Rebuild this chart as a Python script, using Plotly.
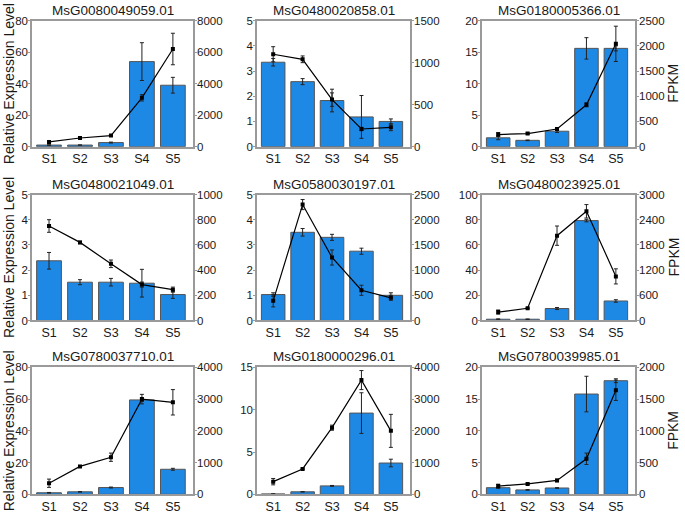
import plotly.graph_objects as go

stages = ["S1", "S2", "S3", "S4", "S5"]
genes = ["MsG0080049059.01", "MsG0480020858.01", "MsG0180005366.01",
         "MsG0480021049.01", "MsG0580030197.01", "MsG0480023925.01",
         "MsG0780037710.01", "MsG0180000296.01", "MsG0780039985.01"]

rel_expr = [[1.0, 1.0, 2.6, 54, 39],
            [3.35, 2.58, 1.83, 1.18, 1.0],
            [1.4, 1.0, 2.45, 15.6, 15.6],
            [2.37, 1.52, 1.52, 1.48, 1.03],
            [1.03, 3.5, 3.3, 2.75, 1.0],
            [1.0, 1.0, 9.5, 79.3, 15.5],
            [1.0, 1.6, 4.3, 59.5, 15.8],
            [0.05, 0.3, 1.0, 9.6, 3.7],
            [1.05, 0.7, 1.0, 15.8, 17.9]]
rel_err = [[0.2, 0.1, 0.3, 12, 5],
           [0.15, 0.12, 0.45, 0.85, 0.1],
           [0.3, 0.05, 0.2, 1.7, 0.4],
           [0.33, 0.1, 0.15, 0.55, 0.15],
           [0.07, 0.15, 0.12, 0.12, 0.1],
           [0.3, 0.2, 0.8, 1.0, 1.0],
           [0.2, 0.2, 0.3, 1.0, 0.6],
           [0.01, 0.02, 0.05, 2.4, 0.45],
           [0.1, 0.05, 0.05, 2.8, 0.3]]
fpkm = [[300, 550, 700, 3100, 6200],
        [1100, 1040, 560, 210, 230],
        [240, 260, 350, 830, 2040],
        [750, 620, 450, 285, 245],
        [390, 2300, 1250, 600, 450],
        [200, 290, 2020, 2600, 1050],
        [350, 880, 1170, 3000, 2900],
        [400, 800, 2100, 3600, 2000],
        [130, 165, 220, 560, 1640]]
fpkm_err = [[40, 30, 30, 200, 1000],
            [90, 40, 80, 20, 40],
            [40, 15, 30, 40, 350],
            [50, 10, 30, 20, 20],
            [120, 100, 150, 100, 50],
            [50, 10, 230, 160, 180],
            [130, 30, 130, 150, 400],
            [100, 20, 80, 300, 520],
            [30, 10, 20, 90, 160]]

left_max = [80, 5, 20, 5, 5, 100, 80, 15, 20]
left_dtick = [20, 1, 5, 1, 1, 20, 20, 5, 5]
right_max = [8000, 1500, 2500, 1000, 2500, 3000, 4000, 4000, 2000]
right_dtick = [2000, 500, 500, 200, 500, 600, 1000, 1000, 500]

W, H = 685, 515
col_px = [(32, 193), (257, 410), (482, 635)]
row_px = [(15, 144), (193, 322), (370, 500)]

BLUE = "#1E88E5"
GREY = "#9a9a9a"
TXT = "#1a1a1a"
FONT = "Liberation Sans, Arial, sans-serif"

fig = go.Figure()
layout = {}
annotations = []
for i in range(9):
    r, c = divmod(i, 3)
    n = i + 1
    xa = "x" if n == 1 else f"x{n}"
    ya = "y" if n == 1 else f"y{n}"
    ya2 = f"y{n + 9}"
    fig.add_trace(go.Bar(
        x=stages, y=rel_expr[i], xaxis=xa, yaxis=ya, width=0.8,
        marker=dict(color=BLUE, line=dict(color="#555555", width=1)),
        error_y=dict(type="data", array=rel_err[i], color="#222222",
                     thickness=1, width=2),
        showlegend=False))
    fig.add_trace(go.Scatter(
        x=stages, y=fpkm[i], xaxis=xa, yaxis=ya2, mode="lines+markers",
        line=dict(color="black", width=1.2),
        marker=dict(color="black", size=4, symbol="square"),
        error_y=dict(type="data", array=fpkm_err[i], color="#222222",
                     thickness=1, width=2),
        showlegend=False))
    x0, x1 = col_px[c]
    y0, y1 = row_px[r]
    xdom = [x0 / W, x1 / W]
    ydom = [1 - y1 / H, 1 - y0 / H]
    tf = dict(size=11.5, color=TXT, family=FONT)
    layout["xaxis" if n == 1 else f"xaxis{n}"] = dict(
        domain=xdom, anchor=ya, range=[-0.55, 4.65], showline=True,
        mirror=True, linecolor=GREY, linewidth=1.5, ticks="",
        showgrid=False, tickfont=dict(size=12.5, color=TXT, family=FONT),
        fixedrange=True)
    layout["yaxis" if n == 1 else f"yaxis{n}"] = dict(
        domain=ydom, anchor=xa, range=[0, left_max[i]], dtick=left_dtick[i],
        showline=True, linecolor=GREY, linewidth=1.5, ticks="outside",
        ticklen=2, tickcolor=GREY, showgrid=False, zeroline=False,
        tickfont=tf, ticklabelstandoff=-2)
    layout[f"yaxis{n + 9}"] = dict(
        overlaying=ya, anchor=xa, side="right", range=[0, right_max[i]],
        dtick=right_dtick[i], showline=True, linecolor=GREY, linewidth=1.5,
        ticks="outside", ticklen=2, tickcolor=GREY, showgrid=False,
        zeroline=False, tickfont=tf, ticklabelstandoff=-2)
    annotations.append(dict(
        text=genes[i], xref="paper", yref="paper",
        x=(x0 + x1) / 2 / W, y=1 - (y0 - 1) / H, xanchor="center",
        yanchor="bottom", showarrow=False,
        font=dict(size=13.5, color=TXT, family=FONT)))

for r in range(3):
    y0, y1 = row_px[r]
    yc = 1 - (y0 + y1) / 2 / H
    annotations.append(dict(
        text="Relative Expression Level", xref="paper", yref="paper",
        x=8.5 / W, y=yc, xanchor="center", yanchor="middle", textangle=-90,
        showarrow=False, font=dict(size=14, color=TXT, family=FONT)))
    annotations.append(dict(
        text="FPKM", xref="paper", yref="paper",
        x=673 / W, y=yc, xanchor="center", yanchor="middle", textangle=-90,
        showarrow=False, font=dict(size=14, color=TXT, family=FONT)))

fig.update_layout(
    width=W, height=H, margin=dict(l=0, r=0, t=0, b=0),
    paper_bgcolor="white", plot_bgcolor="white", bargap=0.2,
    annotations=annotations, font=dict(family=FONT), **layout)

fig.write_html("out.html", config={"displayModeBar": False},
               post_script="document.body.style.margin='0';"
                           "document.body.style.overflow='hidden';")
